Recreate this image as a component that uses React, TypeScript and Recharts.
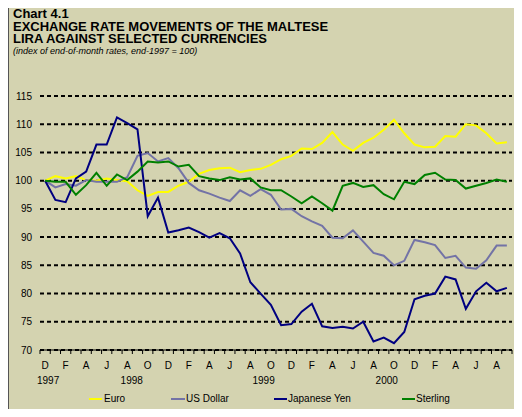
import { LineChart, Line, XAxis, YAxis, CartesianGrid } from 'recharts';

// end-of-month index, Dec 1997 = 100, Dec 1997 .. Sep 2001
const months = [
  'D',
  'J', 'F', 'M', 'A', 'M', 'J', 'J', 'A', 'S', 'O', 'N', 'D',
  'J', 'F', 'M', 'A', 'M', 'J', 'J', 'A', 'S', 'O', 'N', 'D',
  'J', 'F', 'M', 'A', 'M', 'J', 'J', 'A', 'S', 'O', 'N', 'D',
  'J', 'F', 'M', 'A', 'M', 'J', 'J', 'A', 'S',
];

const years = [
  { at: 0, text: '1997' },
  { at: 8, text: '1998' },
  { at: 21, text: '1999' },
  { at: 33, text: '2000' },
];

const euro = [
  100, 100.8, 100.4, 100.8, 100.1, 100.0, 100.4, 100.1, 99.9, 98.3,
  97.3, 98.0, 98.0, 99.1, 99.8, 101.2, 101.9, 102.2, 102.3, 101.5,
  101.9, 102.1, 102.8, 103.8, 104.4, 105.7, 105.6, 106.7, 108.6, 106.4,
  105.3, 106.7, 107.6, 109.0, 110.8, 108.4, 106.4, 105.9, 106.0, 107.9,
  107.8, 110.0, 109.8, 108.4, 106.6, 106.8,
];

const usDollar = [
  100, 98.8, 99.4, 99.1, 100.1, 99.8, 99.8, 99.8, 100.6, 104.4,
  104.9, 103.4, 104.0, 102.2, 99.6, 98.3, 97.7, 97.0, 96.4, 98.3,
  97.3, 98.5, 97.5, 94.9, 95.0, 93.7, 92.8, 92.0, 89.9, 89.8,
  91.2, 89.2, 87.2, 86.7, 85.0, 85.8, 89.5, 89.1, 88.6, 86.3,
  86.7, 84.6, 84.4, 85.9, 88.5, 88.5,
];

const yen = [
  100, 96.6, 96.2, 100.4, 101.6, 106.4, 106.4, 111.2, 110.2, 109.1,
  93.7, 97.0, 90.8, 91.2, 91.7, 90.9, 89.9, 90.7, 89.8, 87.1,
  82.0, 80.0, 78.0, 74.4, 74.6, 76.8, 78.2, 74.2, 73.9, 74.1,
  73.8, 75.0, 71.5, 72.2, 71.2, 73.2, 79.0, 79.6, 80.0, 83.0,
  82.5, 77.3, 80.4, 81.9, 80.4, 81.0,
];

const sterling = [
  100, 99.8, 99.8, 97.5, 99.2, 101.4, 99.1, 101.1, 100.1, 101.6,
  103.4, 103.2, 103.4, 102.5, 102.8, 100.8, 100.4, 100.1, 100.6, 100.2,
  100.4, 98.8, 98.3, 98.3, 97.2, 96.0, 97.2, 96.0, 94.7, 99.1,
  99.6, 98.9, 99.2, 97.6, 96.7, 99.8, 99.4, 101.0, 101.4, 100.2,
  100.1, 98.6, 99.1, 99.6, 100.2, 99.8,
];

const yTicks = [70, 75, 80, 85, 90, 95, 100, 105, 110, 115];

const series = [
  { key: 'euro', name: 'Euro', color: '#FFFF00' },
  { key: 'usd', name: 'US Dollar', color: '#7373A6' },
  { key: 'yen', name: 'Japanese Yen', color: '#000080' },
  { key: 'sterling', name: 'Sterling', color: '#008000' },
];

const data = months.map((m, i) => ({
  idx: i,
  month: m,
  euro: euro[i],
  usd: usDollar[i],
  yen: yen[i],
  sterling: sterling[i],
}));

// tick marks sit between the months, like an Excel category axis
const boundaries = [...months.map((_, i) => i - 0.5), months.length - 0.5];

const FONT = '"Liberation Sans", Arial, sans-serif';
const W = 522;
const H = 417;
const LEFT = 40;
const RIGHT = 10;
const HALF = (W - LEFT - RIGHT) / months.length / 2;
const BG = '#D4D3B0';

const MonthTick = (props: any) => {
  const { x, y, payload } = props;
  const m = Math.round(payload.value + 0.5);
  if (m < 0 || m >= months.length) return <g />;
  const cx = x + HALF;
  const yr = years.find(v => v.at === m);
  return (
    <g fontFamily={FONT} fontSize={10} fill="#000">
      {m % 2 === 0 && <text x={cx} y={y + 13} textAnchor="middle">{months[m]}</text>}
      {yr && <text x={cx + (m === 8 ? 4.5 : 3)} y={y + 28} textAnchor="middle">{yr.text}</text>}
    </g>
  );
};

const legendPos = [
  { line: 89, w: 13, text: 104 },
  { line: 171, w: 14, text: 186 },
  { line: 274, w: 13, text: 288 },
  { line: 402, w: 13, text: 416 },
];

export default function App() {
  return (
    <div style={{ position: 'relative', width: W, height: H, margin: -8, background: '#fff', fontFamily: FONT, overflow: 'hidden' }}>
      <div style={{ position: 'absolute', left: 7, top: 2, right: 0, bottom: 0, background: BG, borderLeft: '2px solid #555', borderTop: '2px solid #8c8c8c' }} />
      <div style={{ position: 'absolute', left: 13, top: 8, fontSize: 13, lineHeight: '12.7px', fontWeight: 'bold', whiteSpace: 'nowrap' }}>
        Chart 4.1<br />
        EXCHANGE RATE MOVEMENTS OF THE MALTESE<br />
        LIRA AGAINST SELECTED CURRENCIES
      </div>
      <div style={{ position: 'absolute', left: 13, top: 46.8, fontSize: 9, lineHeight: '9px', fontStyle: 'italic', whiteSpace: 'nowrap' }}>(index of end-of-month rates, end-1997 = 100)</div>

      <div style={{ position: 'absolute', left: 0, top: 0 }}>
        <LineChart width={W} height={H} data={data} margin={{ top: 96, right: RIGHT, bottom: 22, left: 10 }}>
          <CartesianGrid vertical={false} stroke="#000" strokeWidth={2} strokeDasharray="4 3" />
          <XAxis
            dataKey="idx"
            type="number"
            domain={[-0.5, months.length - 0.5]}
            ticks={boundaries}
            interval={0}
            height={45}
            tickSize={4}
            tickMargin={2}
            axisLine={{ stroke: '#000', strokeWidth: 1 }}
            tickLine={{ stroke: '#000' }}
            tick={<MonthTick />}
          />
          <YAxis
            domain={[70, 115]}
            ticks={yTicks}
            interval={0}
            width={30}
            axisLine={false}
            tickLine={false}
            tickSize={0}
            tickMargin={8}
            tick={{ fontSize: 10, fill: '#000', fontFamily: FONT }}
          />
          {series.map(s => (
            <Line
              key={s.key}
              type="linear"
              dataKey={s.key}
              name={s.name}
              stroke={s.color}
              strokeWidth={2}
              dot={false}
              isAnimationActive={false}
            />
          ))}
        </LineChart>
      </div>

      {series.map((s, i) => (
        <div key={s.key}>
          <div style={{ position: 'absolute', left: legendPos[i].line, top: 397.5, width: legendPos[i].w, height: 2, background: s.color }} />
          <div style={{ position: 'absolute', left: legendPos[i].text, top: 394, fontSize: 10, lineHeight: '10px', whiteSpace: 'nowrap' }}>{s.name}</div>
        </div>
      ))}
    </div>
  );
}
